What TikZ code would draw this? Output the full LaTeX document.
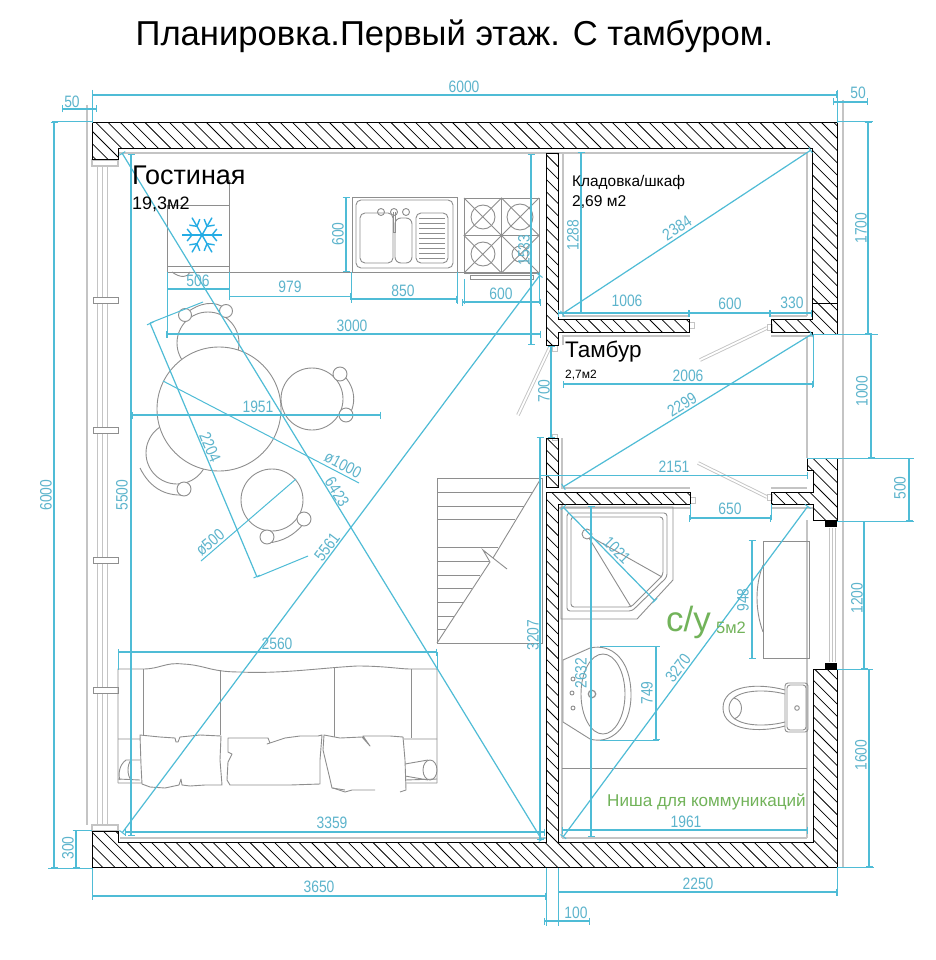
\documentclass[tikz,border=0pt]{standalone}
\usepackage{fontspec}
\setmainfont{Liberation Sans}
\newfontfamily\dimf[FakeStretch=0.84]{Liberation Sans}
\usetikzlibrary{arrows.meta}
\definecolor{dimc}{HTML}{4FBCD6}
\definecolor{dimt}{HTML}{5DB4CC}
\definecolor{furn}{HTML}{8E8E8E}
\definecolor{lgrey}{HTML}{C4C4C4}
\definecolor{grn}{HTML}{72B35A}
\tikzset{
 dimline/.style={dimc,line width=1.2pt,{Bar[width=7pt,line width=1pt]}-{Bar[width=7pt,line width=1pt]}},
 extl/.style={dimc,line width=1pt},
 dimtxt/.style={text=dimt,font=\dimf\fontsize{16.5}{17}\selectfont,inner sep=0pt},
 furnl/.style={furn,line width=.9pt},
 thick grey/.style={lgrey,line width=1.6pt},
 thin grey/.style={lgrey,line width=.7pt},
 hatchl/.style={black,line width=.75pt},
 wallb/.style={black,line width=1pt,line join=miter},
 doorl/.style={double=white,draw=lgrey,line width=.9pt,double distance=1.8pt},
 label/.style={text=black,inner sep=0pt,anchor=west},
}
\newcommand\wallpiece[1]{%
 \begin{scope}\clip #1;
 \foreach \k in {-900,-887.7,...,900}{\draw[hatchl] (\k,0)--({\k+1000},1000);}
 \end{scope}
 \draw[wallb] #1;}
\newcommand\chairpt[3]{\draw[furnl,fill=white] (#1,#2) circle (#3);}
\begin{document}
\begin{tikzpicture}[x=1pt,y=-1pt]
\useasboundingbox[fill=white] (0,0) rectangle (935,960);
\node[text=black,inner sep=0pt,font=\fontsize{34.6}{37}\selectfont] (title) at (454.5,36) {Планировка.Первый этаж. С тамбуром.};
% ---- grey construction lines
\draw[thick grey] (87,105)--(87,825);
\draw[thick grey] (843,100)--(843,867);
\foreach \x in {97,102,107}{\draw[thin grey] (\x,166)--(\x,825);}
\foreach \x in {829,832,835}{\draw[thin grey] (\x,528)--(\x,662);}
\draw[thick grey] (118,153)--(807,153);
\draw[thick grey] (120,838)--(546,838);
\draw[thick grey] (562,838)--(807,838);
\draw[thick grey] (807,153)--(807,316);
\draw[thick grey] (807,336)--(807,458);
\draw[thick grey] (807,520)--(807,838);
\draw[thick grey] (563,154)--(563,316)--(689,316);
\draw[thick grey] (771,316)--(807,316);
\draw[thick grey] (563,345)--(563,336)--(690,336);
\draw[thick grey] (771,336)--(812,336);
\draw[thick grey] (562,438)--(562,488)--(690,488);
\draw[thick grey] (771,488)--(807,488);
\draw[thick grey] (562,504)--(562,838);
\draw[thick grey] (771,508)--(813,508);
\draw[thick grey] (558,508)--(690,508);
\draw[thick grey,fill=white] (92,160) rectangle (118,166);
\draw[thick grey,fill=white] (92,825) rectangle (118,831);
\foreach \y in {297,427,557,687}{\draw[furn,line width=.9pt,fill=white] (93,\y) rectangle (118,{\y+6.5});}
% ---- doors
\draw[doorl] (767,328)--(700,360);
\draw[doorl] (698,463)--(767,497);
\draw[doorl] (550,347)--(518,415);
\foreach \a/\b in {767/324,689/322,767/494,690/497,552/345,552/434}{\draw[thin grey] (\a,\b) rectangle ({\a+5},{\b+6});}
% ---- walls
\wallpiece{(92,123)--(837,123)--(837,334)--(812,334)--(812,332)--(771,332)--(771,319)--(812,319)--(812,149)--(118,149)--(118,160)--(92,160)--cycle}
\draw[black,line width=.7pt] (812,303)--(837,303);
\wallpiece{(807,458)--(837,458)--(837,520)--(813,520)--(813,504)--(771,504)--(771,492)--(813,492)--(813,470)--(807,470)--cycle}
\wallpiece{(92,831)--(118,831)--(118,842)--(546,842)--(546,492)--(690,492)--(690,504)--(558,504)--(558,842)--(813,842)--(813,669)--(837,669)--(837,867)--(92,867)--cycle}
\wallpiece{(546,154)--(558,154)--(558,319)--(689,319)--(689,332)--(558,332)--(558,345)--(546,345)--cycle}
\wallpiece{(546,438)--(558,438)--(558,487)--(546,487)--cycle}
\fill[black] (825,520) rectangle (837,527);
\fill[black] (825,663) rectangle (837,669);
% ---- kitchen
\draw[furnl] (229,180)--(229,272);
\draw[furnl] (167,205)--(229,205);
\draw[furnl] (167,205)--(167,272);
\draw[furnl] (167,272)--(539,272);
\draw[furnl] (167,266)--(229,266);
\draw[furnl] (172,272) .. controls (180,278) and (188,278) .. (190,272);
\begin{scope}[shift={(202,235)},color=cyan!70!dimc,line width=1.4pt]
\foreach \a in {0,60,120}{\draw ({\a}:-20)--({\a}:20);}
\foreach \a in {0,60,120,180,240,300}{\draw ({\a}:10)--({\a+22}:16) ({\a}:10)--({\a-22}:16);}
\end{scope}
\draw[furnl] (352,197) rectangle (457,272);
\draw[furnl,rounded corners=5pt] (356,200) rectangle (453,268);
\draw[furnl,rounded corners=5pt] (360,213) rectangle (393,263);
\draw[furnl,rounded corners=6pt] (395,218) rectangle (412,263);
\draw[furnl,rounded corners=5pt] (416,213) rectangle (448,263);
\foreach \y in {218,223,...,258}{\draw[furnl] (419,\y)--(445,\y);}
\foreach \x in {381,394,406}{\draw[furnl] (\x,212) circle (3.5);}
\draw[furnl] (393,212)--(393,232)--(395,232)--(395,212);
\draw[furnl] (464,198) rectangle (539,273);
\draw[furnl] (501.5,198)--(501.5,273) (464,235.5)--(539,235.5);
\draw[furnl] (464,198)--(539,273) (539,198)--(464,273) (501.5,198)--(464,235.5)--(501.5,273)--(539,235.5)--cycle;
\draw[furnl] (483,217) circle (12) (520,217) circle (13) (483,254) circle (12) (520,254) circle (8);
\draw[furnl] (470,275.5) rectangle (533,279);
% ---- table and chairs
\draw[furnl] (208,343) circle (31);
\draw[furnl] (312,399) circle (31);
\draw[furnl] (177,453) circle (31);
\draw[furnl] (272,500) circle (31);
\draw[furnl,fill=white] (219,409) circle (62);
\draw[furnl] (185,314) .. controls (200,302) and (215,300) .. (226,309);
\draw[furnl] (340,372) .. controls (356,385) and (358,405) .. (346,420);
\draw[furnl] (140,468) .. controls (150,488) and (165,496) .. (184,495);
\draw[furnl] (304,523) .. controls (295,535) and (282,542) .. (267,543);
\chairpt{185}{315}{6.5}
\chairpt{226}{311}{6.5}
\chairpt{340}{374}{7}
\chairpt{346}{415}{7}
\chairpt{184}{489}{7}
\chairpt{304}{519}{7}
\chairpt{267}{537}{7}
% ---- stairs
\draw[furnl] (437,643)--(437,478)--(542,478)--(542,643)--cycle;
\foreach \y in {492,506,519,547,561,575,588,602,616,629}{
 \pgfmathsetmacro\xx{437+(643-\y)*103/163}
 \draw[furnl] (437,\y)--(\xx,\y);}
\draw[furnl] (437,643)--(490,562)--(483,550)--(493,558)--(507,569);
\draw[furnl] (493,558)--(540,480);
% ---- sofa
\draw[furnl] (118,783)--(118,669)--(143,669) .. controls (160,669) and (165,662) .. (183,664) .. controls (205,665) and (210,672) .. (240,672) .. controls (280,674) and (320,668) .. (357,666) .. controls (385,666) and (400,669) .. (410,669)--(437,669)--(437,783);
\draw[furnl] (143,669)--(143,735) (220,670)--(220,735) (334,668)--(334,738) (411,669)--(411,738);
\draw[furnl] (118,739)--(140,739) (404,739)--(437,739) (118,783)--(142,783) (405,783)--(437,783) (118,779)--(140,780) (405,780)--(437,779);
\draw[furnl] (140,760)--(126,760) .. controls (119,765) and (118,775) .. (120,780);
\draw[furnl] (131,760) .. controls (127,765) and (127,775) .. (131,780);
\draw[furnl] (405,764)--(428,760) (405,776)--(428,780);
\draw[furnl] (430,770) ellipse (7 and 10);
\draw[furnl,fill=white,line join=round] (140,735)--(160,737)--(175,738)--(176,742)--(178,742)--(180,737)--(200,735)--(221,736)--(220,760)--(222,785)--(205,785)--(190,786)--(182,785)--(181,779)--(179,785)--(165,788)--(150,787)--(142,784)--(141,765)--cycle;
\draw[furnl,fill=white,line join=round] (228,738)--(268,738)--(270,743)--(267,744)--(285,738)--(300,736)--(318,736)--(322,735)--(320,760)--(320,784)--(290,785)--(245,785)--(230,785)--(227,780)--(228,762)--(232,754)--(228,752)--cycle;
\draw[furnl,fill=white,line join=round] (345,790)--(332,788)--(329,775)--(323,750)--(324,735)--(340,738)--(362,737)--(370,746)--(363,736)--(390,736)--(403,737)--(405,760)--(406,790)--(400,792);
\draw[furnl] (345,792)--(352,790)--(375,790) (345,792)--(333,788);
% ---- shower
\draw[furnl] (561,507)--(673,507)--(673,580)--(637,619)--(561,619)--cycle;
\draw[furnl,rounded corners=3pt] (567,513)--(667,513)--(667,577)--(632,611)--(567,611)--cycle;
\draw[furnl,rounded corners=3pt] (571,517)--(663,517)--(663,575)--(631,607)--(571,607)--cycle;
\draw[furnl] (587,534) circle (5);
\draw[furnl] (589,538)--(631,607) (591,537)--(662,577);
% ---- basin
\draw[furnl] (563,660)--(590,648) .. controls (612,643) and (631,660) .. (631,695) .. controls (631,728) and (610,745) .. (590,739)--(563,722)--cycle;
\draw[furnl] (603,694) ellipse (22 and 40);
\draw[furnl] (573,679) circle (2) (572,693) circle (2) (573,708) circle (2);
\draw[furnl,line width=1.2pt] (592,694) circle (3.7);
% ---- bath
\draw[furnl] (763,541) rectangle (809,658);
\draw[furnl] (763,565) .. controls (755,585) and (755,610) .. (763,632);
% ---- wc
\draw[furnl,rounded corners=3pt] (785,683) rectangle (808,732);
\draw[furnl,rounded corners=3pt] (787,685) rectangle (806,730);
\draw[furnl] (797,708) circle (2.3);
\draw[furnl] (785,690) .. controls (760,683) and (723,684) .. (723,708) .. controls (723,731) and (760,733) .. (785,726);
\draw[furnl] (785,694) .. controls (762,688) and (729,690) .. (729,708) .. controls (729,726) and (762,728) .. (785,722);
\draw[furnl] (734,698) .. controls (744,700) and (744,716) .. (734,719);
\draw[furnl] (562,768)--(807,768);
% ---- extension lines
\draw[extl] (92,90)--(92,123) (837,90)--(837,123);
\draw[extl] (52,122)--(92,122) (48,868)--(92,868) (74,830)--(92,830);
\draw[extl] (92,868)--(92,900) (546,868)--(546,926) (558,868)--(558,926) (837,868)--(837,896);
\draw[extl] (837,122)--(873,122) (813,334)--(878,334) (807,458)--(914,458) (837,521)--(914,521) (837,669)--(870,669) (837,867)--(874,867);
\draw[extl] (167,272)--(167,338) (229,272)--(229,298) (351,272)--(351,301) (457,272)--(457,304) (464,279)--(464,304) (539,272)--(539,304);
\draw[extl] (118,652)--(118,670) (437,652)--(437,670);
\draw[extl] (813,334)--(813,387) (690,504)--(690,520) (771,504)--(771,520);
\draw[extl] (600,646)--(659,646) (600,740)--(659,740);
\draw[extl] (150,323)--(203,302) (257,577)--(308,556);
% ---- dimension lines
\draw[dimline] (92,95)--(837,95);
\draw[dimline] (62,109)--(97,109);
\draw[dimline] (833,102)--(868,102);
\draw[dimline] (54,122)--(54,868);
\draw[dimline] (131,154)--(131,836);
\draw[dimline] (76,830)--(76,868);
\draw[dimline] (92,896)--(546,896);
\draw[dimline] (558,892)--(837,892);
\draw[dimline] (544,921)--(590,921);
\draw[dimline] (868,122)--(868,334);
\draw[dimline] (871,334)--(871,458);
\draw[dimline] (909,458)--(909,521);
\draw[dimline] (864,521)--(864,669);
\draw[dimline] (869,669)--(869,867);
\draw[dimline] (167,289)--(230,289);
\draw[dimline] (229,296.5)--(351,296.5);
\draw[dimline] (351,299)--(457,299);
\draw[dimline] (462,302)--(541,302);
\draw[dimline] (166,334)--(541,334);
\draw[dimline] (346,197)--(346,272);
\draw[dimline] (531,154)--(531,345);
\draw[dimline] (581,152)--(581,314);
\draw[dimline] (558,313)--(689,313);
\draw[dimline] (689,313)--(770,313);
\draw[dimline] (770,313)--(812,313);
\draw[dimline] (562,314)--(811,150);
\draw[dimline] (551,346)--(551,438);
\draw[dimline] (563,384)--(813,384);
\draw[dimline] (563,487)--(812,334);
\draw[dimline] (540,475.5)--(808,475.5);
\draw[dimline] (689,518)--(771,518);
\draw[dimline] (540,437)--(540,840);
\draw[dimline] (591,506)--(591,837);
\draw[dimline] (563,507)--(655,601);
\draw[dimline] (563,837)--(808,506);
\draw[dimline] (752,540)--(752,659);
\draw[dimline] (656,646)--(656,740);
\draw[dimline] (562,830)--(808,830);
\draw[dimline] (125,832)--(545,832);
\draw[dimline] (118,652)--(437,652);
\draw[dimline] (132,415)--(381,415);
\draw[extl] (163,381)--(359,483);
\draw[extl] (201,561)--(296,479);
\draw[dimline] (150,323)--(257,577);
\draw[dimline] (122,153)--(542,840);
\draw[dimline] (122,833)--(540,275);
% ---- dimension texts
\node[dimtxt] (d1) at (464,87) {6000};
\node[dimtxt] (d2) at (72,102) {50};
\node[dimtxt] (d3) at (858,93) {50};
\node[dimtxt,rotate=90] (d4) at (46,495) {6000};
\node[dimtxt,rotate=90] (d5) at (122,495) {5500};
\node[dimtxt,rotate=90] (d6) at (68,848) {300};
\node[dimtxt] (d7) at (319,887) {3650};
\node[dimtxt] (d8) at (698,884) {2250};
\node[dimtxt] (d9) at (576,913) {100};
\node[dimtxt,rotate=90] (d10) at (861,228) {1700};
\node[dimtxt,rotate=90] (d11) at (862,391) {1000};
\node[dimtxt,rotate=90] (d12) at (900,488) {500};
\node[dimtxt,rotate=90] (d13) at (857,598) {1200};
\node[dimtxt,rotate=90] (d14) at (861,755) {1600};
\node[dimtxt] (d15) at (198,281) {506};
\node[dimtxt] (d16) at (290,287) {979};
\node[dimtxt] (d17) at (403,291) {850};
\node[dimtxt] (d18) at (501,294) {600};
\node[dimtxt] (d19) at (352,326) {3000};
\node[dimtxt,rotate=90] (d20) at (338,234) {600};
\node[dimtxt,rotate=90] (d21) at (524,250) {1533};
\node[dimtxt,rotate=90] (d22) at (573,235) {1288};
\node[dimtxt] (d23) at (627,301) {1006};
\node[dimtxt] (d24) at (730,304) {600};
\node[dimtxt] (d25) at (792,303) {330};
\node[dimtxt,rotate=33] (d26) at (677,228) {2384};
\node[dimtxt,rotate=90] (d27) at (544,391) {700};
\node[dimtxt] (d28) at (688,376) {2006};
\node[dimtxt,rotate=32] (d29) at (682,405) {2299};
\node[dimtxt] (d30) at (674,467) {2151};
\node[dimtxt] (d31) at (730,509) {650};
\node[dimtxt,rotate=90] (d32) at (533,635) {3207};
\node[dimtxt,rotate=90] (d33) at (581,673) {2632};
\node[dimtxt,rotate=-45] (d34) at (617,550) {1021};
\node[dimtxt,rotate=53] (d35) at (678,668) {3270};
\node[dimtxt,rotate=90] (d36) at (743,600) {948};
\node[dimtxt,rotate=90] (d37) at (647,693) {749};
\node[dimtxt] (d38) at (686,822) {1961};
\node[dimtxt] (d39) at (332,823) {3359};
\node[dimtxt] (d40) at (277,644) {2560};
\node[dimtxt] (d41) at (258,407) {1951};
\node[dimtxt,rotate=-28] (d42) at (343,465) {ø1000};
\node[dimtxt,rotate=40] (d43) at (210,542) {ø500};
\node[dimtxt,rotate=-67] (d44) at (210,447) {2204};
\node[dimtxt,rotate=-58] (d45) at (337,492) {6423};
\node[dimtxt,rotate=53] (d46) at (327,547) {5561};
% ---- room labels
\node[label,font=\fontsize{27}{29}\selectfont] (r1) at (132,175) {Гостиная};
\node[label,font=\fontsize{18}{20}\selectfont] (r2) at (132,204) {19,3м2};
\node[label,font=\fontsize{15.4}{17}\selectfont] (r3) at (572,183) {Кладовка/шкаф};
\node[label,font=\fontsize{15.6}{17}\selectfont] (r4) at (572,202) {2,69 м2};
\node[label,font=\fontsize{22.5}{24}\selectfont] (r5) at (565,352) {Тамбур};
\node[label,font=\fontsize{12}{14}\selectfont] (r6) at (565,375) {2,7м2};
\node[label,text=grn,font=\fontsize{35}{37}\selectfont] (r7) at (666,622) {с/у};
\node[label,text=grn,font=\fontsize{16.5}{18}\selectfont] (r8) at (716,628) {5м2};
\node[label,text=grn,font=\fontsize{17.1}{19}\selectfont] (r9) at (607,802) {Ниша для коммуникаций};
\end{tikzpicture}
\end{document}
